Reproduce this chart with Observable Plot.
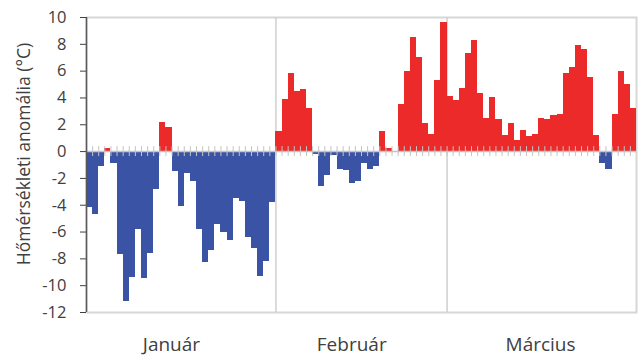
<!DOCTYPE html>
<html>
<head>
<meta charset="utf-8">
<script src="https://cdn.jsdelivr.net/npm/d3@7"></script>
<script src="https://cdn.jsdelivr.net/npm/@observablehq/plot@0.6"></script>
<style>
  html, body { margin: 0; padding: 0; background: #fff; }
</style>
</head>
<body>
<div id="chart"></div>
<script>
// Daily temperature anomaly (°C)
const months = ["Január", "Február", "Március"];
const january = [-4.2, -4.7, -1.1, 0.25, -0.9, -7.7, -11.2, -9.4, -5.8, -9.5, -7.6, -2.8, 2.2, 1.8, -1.5, -4.1, -1.6, -2.2, -5.8, -8.3, -7.4, -5.4, -6.0, -6.6, -3.5, -3.7, -6.4, -7.2, -9.3, -8.2, -3.8];
const february = [1.5, 3.9, 5.8, 4.5, 4.6, 3.2, -0.25, -2.6, -1.8, -0.3, -1.3, -1.4, -2.4, -2.2, -0.9, -1.3, -1.1, 1.5, 0.25, 0, 3.5, 6.0, 8.5, 7.0, 2.1, 1.3, 5.3, 9.6];
const march = [4.1, 3.8, 4.7, 7.3, 8.3, 4.3, 2.5, 4.0, 2.4, 1.2, 2.1, 0.8, 1.6, 1.1, 1.3, 2.5, 2.4, 2.7, 2.8, 5.8, 6.3, 7.9, 7.6, 5.5, 1.2, -0.9, -1.3, 2.8, 6.0, 5.0, 3.2];
const yTicks = [-12, -10, -8, -6, -4, -2, 0, 2, 4, 6, 8, 10];
const yLabel = "Hőmérsékleti anomália (°C)";

const series = [january, february, march];
const data = [];
const monthStarts = [];
let idx = 0;
series.forEach((arr) => {
  monthStarts.push(idx);
  arr.forEach((v) => { data.push({i: idx, v}); idx++; });
});
const total = idx;
const monthCenters = series.map((arr, k) => monthStarts[k] + arr.length / 2);
const labelShift = [-1.6, -1.6, -0.2];
const labelPos = monthCenters.map((c, k) => c + labelShift[k]);

const RED = "#ED2A2A", BLUE = "#3A53A4";

const chart = Plot.plot({
  width: 642,
  height: 361,
  marginLeft: 86,
  marginRight: 6,
  marginTop: 17,
  marginBottom: 49,
  x: {domain: [0, total], axis: null},
  y: {domain: [-12, 10], axis: null},
  color: {type: "identity"},
  style: {fontFamily: "'Open Sans', sans-serif", fontSize: "16.5px", color: "#404040", background: "#fff"},
  marks: [
    Plot.frame({stroke: "#d6d6d6", strokeWidth: 2}),
    Plot.ruleX(monthStarts.slice(1), {stroke: "#cfcfcf", strokeWidth: 1.5}),
    Plot.rect(data, {x1: "i", x2: d => d.i + 1, y1: 0, y2: "v", fill: d => d.v >= 0 ? RED : BLUE, shapeRendering: "crispEdges"}),
    Plot.ruleY([0], {stroke: "#c4c4c4", strokeWidth: 1.5}),
    Plot.ruleX(d3.range(1, total), {y1: -0.37, y2: 0.37, stroke: "#c4c4c4", strokeWidth: 1}),
    Plot.axisY({ticks: yTicks, tickSize: 6, tickPadding: 14, tickFormat: d => String(d), stroke: "#404040", fill: "#404040", label: null}),
    Plot.ruleX([0], {stroke: "#595959", strokeWidth: 1.5}),
    Plot.axisX({ticks: labelPos, tickSize: 0, tickPadding: 25, tickFormat: (d, k) => months[k], fill: "#404040", fontSize: 19, label: null}),
    Plot.text([yLabel], {frameAnchor: "left", dx: -62, dy: -11, rotate: -90, textAnchor: "middle", fontSize: 17.5, fill: "#404040"})
  ]
});
document.getElementById("chart").appendChild(chart);
</script>
</body>
</html>
